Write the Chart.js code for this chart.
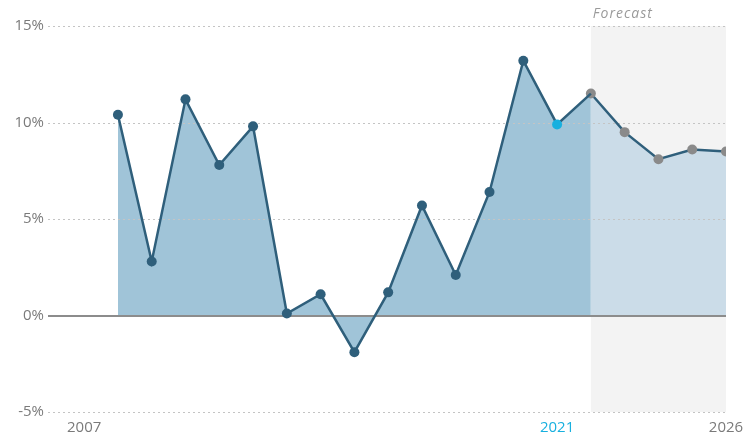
<!DOCTYPE html>
<html>
<head>
<meta charset="utf-8">
<script src="https://cdn.jsdelivr.net/npm/chart.js@4.4.1/dist/chart.umd.min.js"></script>
<style>
  html, body { margin:0; padding:0; background:#fff; }
  #wrap { width:743px; height:438px; }
</style>
</head>
<body>
<div id="wrap"><canvas id="growth"></canvas></div>
<script>
const YEARS = [2008, 2009, 2010, 2011, 2012, 2013, 2014, 2015, 2016, 2017, 2018, 2019, 2020, 2021, 2022, 2023, 2024, 2025, 2026];
const GROWTH = [10.4, 2.8, 11.2, 7.8, 9.8, 0.1, 1.1, -1.9, 1.2, 5.7, 2.1, 6.4, 13.2, 9.9, 11.5, 9.5, 8.1, 8.6, 8.5];
const X_TICKS = [2007, 2021, 2026];
const Y_TICKS = [-5, 0, 5, 10, 15];
const FORECAST_FROM = 2022;
const LATEST = 2021;

const C_LINE = '#2f5f7b';
const C_FILL = 'rgb(160,196,216)';
const C_FILL_FC = 'rgb(203,220,232)';
const C_NOW = '#18b0df';
const C_FC_PT = '#8a8a8a';
const C_TEXT = '#7a7a7a';

let hist = [], fc = [];
YEARS.forEach((y, i) => {
    if (y <= FORECAST_FROM) hist.push({x:y, y:GROWTH[i]});
    if (y >= FORECAST_FROM) fc.push({x:y, y:GROWTH[i]});
});

// grey forecast band under everything, gridlines on top of the area fills
const decor = {
    id:'decor',
    beforeDraw(chart) {
        const {ctx, chartArea:a, scales:{x}} = chart;
        const x0 = x.getPixelForValue(FORECAST_FROM);
        ctx.save();
        ctx.fillStyle = '#f3f3f3';
        ctx.fillRect(x0, a.top, a.right - x0, a.bottom - a.top);
        ctx.restore();
    },
    beforeDatasetsDraw(chart) {
        const {ctx, chartArea:a, scales:{y}} = chart;
        ctx.save();
        Y_TICKS.forEach(v => {
            const py = Math.round(y.getPixelForValue(v));
            ctx.beginPath();
            if (v === 0) {
                ctx.setLineDash([]); ctx.strokeStyle = '#8c8c8c'; ctx.lineWidth = 2;
                ctx.moveTo(a.left, py); ctx.lineTo(a.right, py);
            } else {
                ctx.setLineDash([2, 3]); ctx.strokeStyle = '#c4c4c4'; ctx.lineWidth = 1;
                ctx.moveTo(a.left, py + 0.5); ctx.lineTo(a.right, py + 0.5);
            }
            ctx.stroke();
        });
        ctx.restore();
    },
    afterDraw(chart) {
        const {ctx, chartArea:a, scales:{x}} = chart;
        const x0 = x.getPixelForValue(FORECAST_FROM);
        ctx.save();
        ctx.font = "italic 14px 'Open Sans', sans-serif";
        ctx.letterSpacing = '1px';
        ctx.fillStyle = '#9a9a9a';
        ctx.textAlign = 'left';
        ctx.textBaseline = 'middle';
        ctx.fillText('Forecast', x0 + 2, a.top - 12);
        ctx.restore();
    }
};

Chart.defaults.font.family = "'Open Sans', sans-serif";
Chart.defaults.font.size = 15;
Chart.defaults.color = C_TEXT;

new Chart(document.getElementById('growth').getContext('2d'), {
    type:'line',
    data: {
        datasets:[
            {
                data:hist, borderColor:C_LINE, borderWidth:2.5, fill:'origin', backgroundColor:C_FILL,
                tension:0, pointBorderWidth:0,
                pointRadius:c => c.raw && c.raw.x === FORECAST_FROM ? 0 : 5,
                pointBackgroundColor:c => c.raw && c.raw.x === LATEST ? C_NOW : C_LINE
            },
            {
                data:fc, borderColor:C_LINE, borderWidth:2.5, fill:'origin', backgroundColor:C_FILL_FC,
                tension:0, pointBorderWidth:0, pointRadius:5, pointBackgroundColor:C_FC_PT
            }
        ]
    },
    options: {
        responsive:true, maintainAspectRatio:false, animation:false,
        layout:{padding:{top:26, right:17, left:0, bottom:0}},
        plugins:{legend:{display:false}, tooltip:{enabled:false}, filler:{drawTime:'beforeDatasetsDraw'}},
        scales:{
            x:{
                type:'linear', min:2005.93, max:2026,
                afterBuildTicks:s => { s.ticks = X_TICKS.map(v => ({value:v})); },
                afterFit:s => { s.height = 26; s.paddingLeft = 0; s.paddingRight = 0; },
                grid:{display:false, drawTicks:false},
                border:{display:false},
                ticks:{padding:7, maxRotation:0, autoSkip:false,
                    callback:v => String(v),
                    color:c => c.tick.value === LATEST ? C_NOW : C_TEXT}
            },
            y:{
                min:-5, max:15,
                afterBuildTicks:s => { s.ticks = Y_TICKS.map(v => ({value:v})); },
                afterFit:s => { s.width = 48; s.paddingTop = 0; s.paddingBottom = 0; },
                grid:{display:false, drawTicks:false},
                border:{display:false},
                ticks:{padding:4, callback:v => v + '%'}
            }
        }
    },
    plugins:[decor]
});
</script>
</body>
</html>
